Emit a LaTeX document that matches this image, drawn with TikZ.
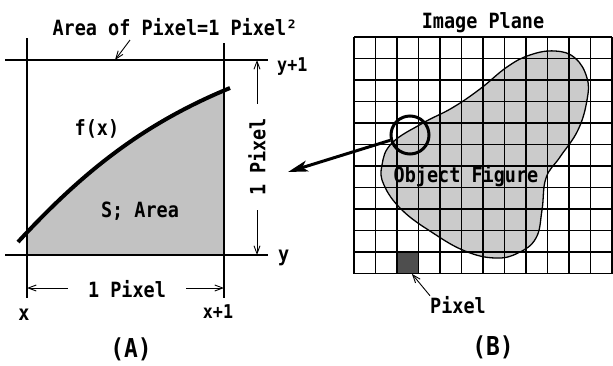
\documentclass[tikz,border=0pt]{standalone}
\usepackage{fontspec}
\usetikzlibrary{arrows.meta, positioning}
\newfontfamily\labfont{DejaVu Sans Mono Bold}[FakeStretch=0.88]
\definecolor{cShade}{HTML}{C2C2C2}
\definecolor{cBlob}{HTML}{CBCBCB}
\definecolor{cDark}{HTML}{4E4E4E}
\tikzset{
  lbl/.style={inner sep=0pt, font=\labfont\fontsize{21}{24}\selectfont},
  slbl/.style={inner sep=0pt, font=\labfont\fontsize{19}{21}\selectfont},
  caption/.style={inner sep=0pt, font=\labfont\fontsize{26}{30}\selectfont},
  dimlbl/.style={lbl, inner xsep=#1, inner ysep=0pt},
  dimlbl/.default=16pt,
  guide/.style={line width=1.1pt},
  gridline/.style={line width=1.4pt},
  dimarrow/.style={-{Straight Barb[length=8pt,width=6pt]}, line width=0.9pt},
  bigarrow/.style={-{Stealth[length=20pt,width=11pt,inset=5pt]}, line width=3pt},
}

\begin{document}
\begin{tikzpicture}[x=1pt, y=-1pt]
  \useasboundingbox[fill=white] (0,0) rectangle (613,365);

  % (A) one pixel
  \begin{scope}
    \clip (27,60) rectangle (224,255);
    \fill[cShade] (18,242) .. controls (80,175) and (140,125) .. (230,88)
      -- (230,260) -- (18,260) -- cycle;
  \end{scope}
  \draw[guide] (5,60) -- (268,60);
  \draw[guide] (5,255) -- (268,255);
  \draw[guide] (27,38) -- (27,298);
  \draw[guide] (224,43) -- (224,298);
  \draw[line width=4pt] (18,242) .. controls (80,175) and (140,125) .. (230,88);

  \node[lbl, anchor=base] (arealbl) at (175,35) {Area of Pixel=1 Pixel²};
  \coordinate (areatail) at (130,40);
  \coordinate (areatip) at (115,60);
  \draw[dimarrow] (areatail) -- (areatip);

  \node[lbl, anchor=base] (fx) at (97,135) {f(x)};
  \node[lbl, anchor=base] (sarea) at (140,217) {S; Area};

  % dimensions
  \node[dimlbl=14pt, rotate=90] (vdim) at (257,157) {1 Pixel};
  \coordinate (vtop) at (257,60);
  \coordinate (vbot) at (257,255);
  \draw[dimarrow] (vdim) -- (vtop);
  \draw[dimarrow] (vdim) -- (vbot);

  \node[dimlbl=20pt, anchor=base] (hdim) at (127,297) {1 Pixel};
  \coordinate (hleft) at (27,288);
  \coordinate (hright) at (224,288);
  \draw[dimarrow] (hdim.west |- hleft) -- (hleft);
  \draw[dimarrow] (hdim.east |- hright) -- (hright);

  \node[slbl, anchor=base west] (yone) at (277,71) {y+1};
  \node[lbl, anchor=base west] (ylbl) at (278,261) {y};
  \node[lbl, anchor=base] (xlbl) at (24,320) {x};
  \node[slbl, anchor=base] (xone) at (218,318) {x+1};
  \node[caption, anchor=base] (capA) at (131,357) {(A)};

  % (B) image plane
  \draw[line width=1.3pt, fill=cBlob] plot[smooth cycle, tension=0.7] coordinates {
    (382,165) (392,143) (423,123) (452,108) (480,89) (507,67) (530,55)
    (555,51) (575,58) (587,78) (587,100) (578,130) (560,157) (546,178)
    (542,210) (536,238) (518,253) (495,258) (465,251) (433,233)
    (402,210) (384,185)};
  \node[fill=cDark, minimum size=21.5pt, inner sep=0pt, anchor=north west] (dpix) at (397,252) {};
  \foreach \i in {0,...,12}
    \draw[gridline] (354+21.5*\i,37) -- (354+21.5*\i,274);
  \foreach \j in {0,...,11}
    \draw[gridline] (354,37+21.5*\j) -- (612,37+21.5*\j);

  \node[lbl, anchor=base] (plane) at (483,28) {Image Plane};
  \node[lbl, anchor=base] (objfig) at (466,182) {Object Figure};
  \node[lbl, anchor=base west] (pixlbl) at (430,313) {Pixel};
  \draw[dimarrow] (pixlbl.north west) -- (dpix.-70);
  \node[caption, anchor=base] (capB) at (493,355) {(B)};

  % zoom circle and arrow
  \node[circle, draw, line width=3pt, minimum size=38pt, inner sep=0pt] (zoomc) at (410,135) {};
  \coordinate (bigtip) at (288,172);
  \draw[bigarrow] (zoomc.195) -- (bigtip);

\end{tikzpicture}
\end{document}
